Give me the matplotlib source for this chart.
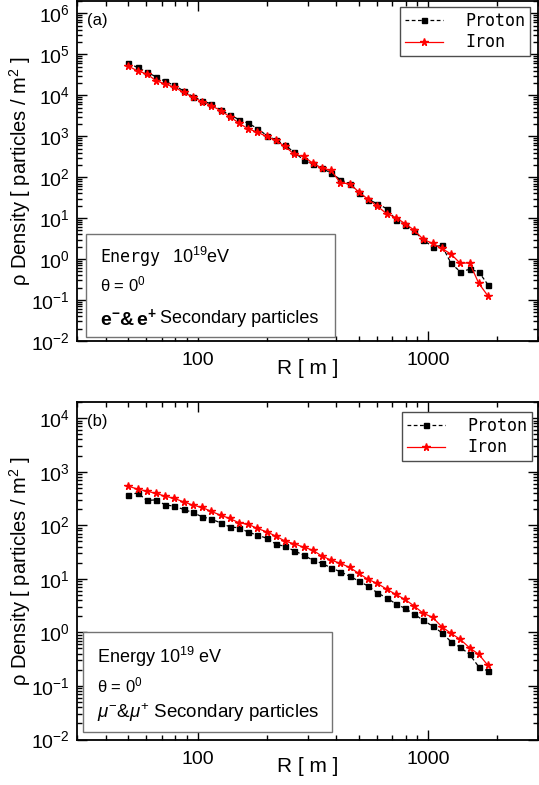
import numpy as np
import matplotlib
matplotlib.use("Agg")
import matplotlib.pyplot as plt
from matplotlib import ticker
from matplotlib.patches import Rectangle

plt.rcParams['font.family'] = ['Liberation Sans', 'DejaVu Sans']
plt.rcParams['mathtext.fontset'] = 'custom'
plt.rcParams['mathtext.rm'] = 'Liberation Sans'
plt.rcParams['mathtext.it'] = 'Liberation Sans:italic'
plt.rcParams['mathtext.bf'] = 'Liberation Sans:bold'

# 距離 R [m] (対数等間隔のビン)
R = [50.1, 55.0, 60.3, 66.1, 72.4, 79.4, 87.1, 95.5, 104.7, 114.8,
     125.9, 138.0, 151.4, 166.0, 182.0, 199.5, 218.8, 239.9, 263.0, 288.4,
     316.2, 346.7, 380.2, 416.9, 457.1, 501.2, 549.5, 602.6, 660.7, 724.4,
     794.3, 871.0, 955.0, 1047.1, 1148.2, 1258.9, 1380.4, 1513.6, 1659.6, 1819.7]

# (a) 電子・陽電子
ee_proton = [59700, 47700, 36100, 28400, 21800, 17400, 12700, 9250, 7390, 6140,
             4390, 3320, 2550, 2070, 1540, 1040, 817, 594, 408, 262,
             213, 164, 126, 86.9, 69.5, 42.0, 28.4, 22.6, 17.1, 9.25,
             6.98, 4.88, 2.90, 1.99, 2.15, 0.785, 0.491, 0.561, 0.491, 0.236]
ee_iron = [51600, 39000, 33000, 22600, 18800, 15600, 11800, 8890, 6990, 5580,
           4220, 3010, 2070, 1510, 1250, 984, 786, 561, 359, 321,
           220, 166, 146, 71.8, 69.5, 43.4, 28.8, 19.5, 12.9, 10.3,
           7.39, 5.08, 3.01, 2.41, 1.82, 1.32, 0.785, 0.813, 0.256, 0.126]

# (b) ミューオン
mu_proton = [365, 402, 290, 298, 240, 227, 197, 173, 144, 130,
             111, 93.3, 89.4, 74.3, 65.3, 57.4, 44.4, 40.2, 33.3, 27.7,
             22.3, 19.4, 16.0, 13.5, 11.2, 9.06, 7.31, 5.48, 4.42, 3.42,
             2.81, 2.19, 1.67, 1.31, 0.984, 0.668, 0.525, 0.389, 0.228, 0.190]
mu_iron = [536, 472, 433, 392, 349, 316, 273, 237, 215, 181,
           154, 134, 111, 104, 87.1, 75.3, 62.6, 50.5, 45.0, 39.0,
           34.3, 26.5, 22.3, 19.4, 16.3, 12.6, 9.75, 8.20, 6.43, 5.12,
           4.13, 3.10, 2.26, 1.91, 1.27, 0.957, 0.740, 0.516, 0.389, 0.242]


fig = plt.figure(figsize=(5.39, 7.85), dpi=100)
ax_a = fig.add_axes([0.14286, 0.56561, 0.85529, 0.43312])
ax_b = fig.add_axes([0.14286, 0.05796, 0.85529, 0.42994])


def setup(ax, ytop, nmax):
  ax.set_xscale('log')
  ax.set_yscale('log')
  ax.set_xlim(30, 3000)
  ax.set_ylim(1e-2, ytop)
  ax.yaxis.set_major_locator(ticker.FixedLocator([10.0 ** k for k in range(-2, nmax + 1)]))
  ax.yaxis.set_minor_locator(ticker.LogLocator(base=10, subs=np.arange(2, 10), numticks=100))
  ax.yaxis.set_minor_formatter(ticker.NullFormatter())
  ax.yaxis.set_major_formatter(ticker.LogFormatterMathtext())
  ax.xaxis.set_major_locator(ticker.FixedLocator([100, 1000]))
  ax.xaxis.set_major_formatter(ticker.FuncFormatter(lambda v, p: f"{v:g}"))
  ax.xaxis.set_minor_formatter(ticker.NullFormatter())
  ax.tick_params(which='both', direction='in', top=True, right=True, width=1)
  ax.tick_params(which='major', length=7, labelsize=14)
  ax.tick_params(which='minor', length=3.5)
  ax.tick_params(axis='x', which='major', pad=8)
  ax.tick_params(axis='y', which='major', pad=5)
  for s in ax.spines.values():
    s.set_linewidth(1.3)
  ax.set_ylabel("ρ Density [ particles / m$^2$ ]", fontsize=14.5, va='center')
  ax.yaxis.set_label_coords(-0.124, 0.5)
  ax.text(0.5, -0.08, "R [ m ]", transform=ax.transAxes, ha='center', va='center', fontsize=15)


def draw(ax, p, fe):
  ax.plot(R, p, color='black', ls='--', dashes=(3, 2), lw=0.9, marker='s', ms=3.6, label='Proton')
  ax.plot(R, fe, color='red', ls='-', lw=0.9, marker='*', ms=5.5, label='Iron')


def legend(ax, anchor):
  lg = ax.legend(loc='upper right', bbox_to_anchor=anchor, borderaxespad=0, fancybox=False,
                 framealpha=1, edgecolor='0.3', prop={'family': 'DejaVu Sans Mono', 'size': 12},
                 handlelength=2.3, handletextpad=1.3, labelspacing=0.2, borderpad=0.3)
  lg.get_frame().set_linewidth(1.0)


# ---- (a) ----
setup(ax_a, 2e6, 6)
draw(ax_a, ee_proton, ee_iron)
legend(ax_a, (0.983, 0.982))
ax_a.text(0.0217, 0.944, "(a)", transform=ax_a.transAxes, ha='left', va='center', fontsize=12)
ax_a.add_patch(Rectangle((0.0195, 0.0118), 0.540, 0.303, transform=ax_a.transAxes,
                         fill=True, facecolor='white', edgecolor='0.45', lw=1, zorder=5))
ax_a.text(0.0499, 0.247, "Energy", transform=ax_a.transAxes, ha='left', va='center',
          fontsize=12, family='DejaVu Sans Mono', zorder=6)
ax_a.text(0.206, 0.247, "10$^{19}$eV", transform=ax_a.transAxes, ha='left', va='center',
          fontsize=13, zorder=6)
ax_a.text(0.0499, 0.165, "θ = 0$^0$", transform=ax_a.transAxes, ha='left', va='center',
          fontsize=12, zorder=6)
ax_a.text(0.0499, 0.0676, r"$\mathbf{e}^{\mathbf{-}}$&$\,\mathbf{e}^{\mathbf{+}}$",
          transform=ax_a.transAxes, ha='left', va='center', fontsize=14, fontweight='bold', zorder=6)
ax_a.text(0.180, 0.0676, "Secondary particles", transform=ax_a.transAxes,
          ha='left', va='center', fontsize=13, zorder=6)

# ---- (b) ----
setup(ax_b, 2e4, 4)
draw(ax_b, mu_proton, mu_iron)
legend(ax_b, (0.987, 0.970))
ax_b.text(0.0217, 0.941, "(b)", transform=ax_b.transAxes, ha='left', va='center', fontsize=12)
ax_b.add_patch(Rectangle((0.013, 0.0222), 0.540, 0.296, transform=ax_b.transAxes,
                         fill=True, facecolor='white', edgecolor='0.45', lw=1, zorder=5))
ax_b.text(0.0434, 0.244, "Energy 10$^{19}$ eV", transform=ax_b.transAxes, ha='left', va='center',
          fontsize=13, zorder=6)
ax_b.text(0.0434, 0.159, "θ = 0$^0$", transform=ax_b.transAxes, ha='left', va='center',
          fontsize=12, zorder=6)
ax_b.text(0.0434, 0.0785, r"$\mu^{-}$&$\mu^{+}$ Secondary particles", transform=ax_b.transAxes,
          ha='left', va='center', fontsize=13.5, zorder=6)

fig.savefig("out.png", dpi=100)
